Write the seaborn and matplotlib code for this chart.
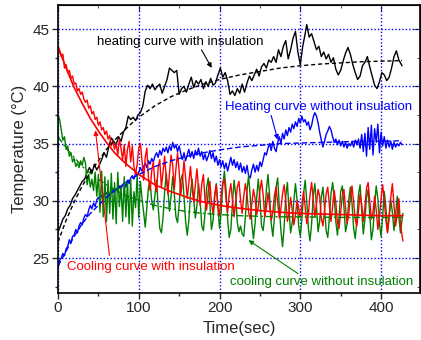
import numpy as np
import pandas as pd
import matplotlib
matplotlib.use("Agg")
import matplotlib.pyplot as plt
from matplotlib.ticker import MultipleLocator
import seaborn as sns

# ---------------- data ----------------
heat_ins = [(0,27.3),(3,27.8),(6,28.4),(9,28.7),(12,29.3),(15,29.6),(18,30.2),(21,30.5),(24,30.9),(27,31.3),(30,31.7),(33,31.9),(36,32.5),(39,32.9),(42,32.4),(45,33.2),(48,32.7),(51,33.1),(54,33.6),(57,34.2),(60,33.8),(63,34.8),(66,35.5),(69,35.2),(72,34.9),(75,35.6),(78,35.2),(81,36.0),(84,36.4),(87,37.4),(90,37.1),(93,37.3),(96,37.0),(99,37.5),(102,37.7),(105,38.3),(108,39.6),(111,40.1),(114,39.8),(117,40.2),(120,39.7),(123,40.0),(126,40.2),(129,39.4),(132,40.0),(135,40.6),(138,41.6),(141,41.4),(144,41.2),(147,41.4),(150,39.3),(153,39.8),(156,40.0),(159,39.5),(162,40.2),(165,40.8),(168,39.9),(171,40.5),(174,40.2),(177,40.6),(180,39.8),(183,40.4),(186,40.0),(189,40.7),(192,40.1),(195,40.3),(198,41.0),(201,41.6),(204,40.8),(207,41.2),(210,40.5),(213,39.3),(216,39.6),(219,39.2),(222,39.8),(225,39.4),(228,40.2),(231,39.5),(234,40.3),(237,40.9),(240,40.5),(243,41.0),(246,41.5),(249,40.9),(252,41.7),(255,42.0),(258,41.6),(261,42.3),(264,42.1),(267,42.6),(270,42.1),(273,43.2),(276,42.6),(279,43.5),(282,44.0),(285,42.4),(288,43.2),(291,44.2),(294,44.8),(297,43.0),(300,41.9),(303,43.5),(306,44.6),(308,45.4),(311,44.3),(314,44.6),(317,43.9),(320,43.2),(323,43.5),(326,42.6),(329,43.0),(332,42.4),(335,42.8),(338,42.1),(341,42.5),(344,41.5),(347,41.0),(350,41.4),(353,42.2),(356,42.9),(359,43.4),(362,42.8),(365,41.9),(368,41.2),(371,40.6),(374,40.9),(377,41.8),(380,42.1),(383,42.6),(386,41.7),(389,40.9),(392,40.1),(395,39.8),(398,40.4),(401,41.2),(404,41.0),(407,40.5),(410,40.8),(413,41.6),(416,42.6),(419,43.1),(422,42.3),(426,41.8)]

heat_ins_fit = [(0,26.4),(10,28.3),(20,29.9),(30,31.3),(40,32.5),(50,33.5),(60,34.5),(70,35.3),(80,36.0),(90,36.7),(100,37.3),(120,38.3),(140,39.1),(160,39.7),(180,40.2),(200,40.6),(225,41.0),(250,41.3),(275,41.6),(300,41.8),(325,41.95),(350,42.05),(375,42.15),(400,42.2),(426,42.25)]

heat_noins = [(0,24.1),(2,24.8),(4,25.0),(6,25.4),(8,25.2),(10,25.8),(12,26.0),(14,26.6),(16,26.3),(18,26.9),(20,27.0),(22,27.5),(24,27.2),(26,27.8),(28,28.1),(30,27.9),(32,28.5),(34,28.8),(36,28.6),(38,29.2),(40,29.6),(42,29.3),(44,29.8),(46,29.5),(48,30.1),(50,30.3),(52,30.0),(54,30.5),(56,30.3),(58,30.8),(60,30.6),(62,30.9),(64,30.5),(66,30.7),(68,31.0),(70,30.7),(72,31.1),(74,30.8),(76,31.3),(78,31.0),(80,31.4),(82,31.6),(84,31.2),(86,31.8),(88,31.5),(90,32.0),(92,32.2),(94,31.9),(96,32.4),(98,32.2),(100,32.5),(102,32.9),(104,32.6),(106,33.0),(108,33.3),(110,32.9),(112,33.5),(114,33.2),(116,33.7),(118,33.4),(120,33.9),(122,34.2),(124,33.8),(126,34.4),(128,34.0),(130,34.6),(132,34.3),(134,34.7),(136,34.2),(138,34.8),(140,34.4),(142,35.1),(144,34.6),(146,34.9),(148,34.3),(150,34.8),(152,34.1),(154,33.6),(156,34.2),(158,33.5),(160,34.0),(162,34.5),(164,33.8),(166,34.3),(168,33.7),(170,34.4),(172,34.0),(174,34.6),(176,33.9),(178,34.3),(180,33.6),(182,34.1),(184,33.5),(186,33.9),(188,34.4),(190,33.7),(192,34.2),(194,33.4),(196,33.9),(198,33.1),(200,33.6),(202,33.0),(204,33.5),(206,32.8),(208,33.3),(210,32.6),(212,33.2),(214,33.8),(216,33.1),(218,33.6),(220,32.9),(222,33.4),(224,32.7),(226,33.3),(228,32.5),(230,33.0),(232,32.4),(234,33.1),(236,32.2),(238,32.0),(240,32.7),(242,33.2),(244,32.5),(246,33.1),(248,32.6),(250,33.4),(252,33.0),(254,33.6),(256,34.2),(258,34.0),(260,34.6),(262,35.0),(264,34.4),(266,35.2),(268,34.6),(270,34.3),(272,35.1),(274,35.6),(276,35.0),(278,35.9),(280,35.4),(282,36.2),(284,35.7),(286,36.4),(288,36.0),(290,36.7),(292,36.3),(294,36.9),(296,36.5),(298,37.2),(300,36.8),(302,37.4),(304,36.9),(306,37.1),(308,36.6),(310,36.9),(312,36.2),(314,36.6),(316,37.3),(318,37.7),(320,37.4),(322,36.8),(324,36.0),(326,35.3),(328,34.7),(330,35.2),(332,35.8),(334,36.1),(336,36.5),(338,36.2),(340,35.6),(342,35.1),(344,35.4),(346,34.9),(348,35.3),(350,34.8),(352,35.2),(354,34.7),(356,35.1),(358,34.6),(360,35.0),(362,34.8),(364,35.2),(366,34.7),(368,35.3),(370,34.9),(372,35.4),(374,34.6),(376,35.8),(378,34.3),(380,35.9),(382,33.9),(384,36.4),(386,34.5),(388,36.6),(390,34.0),(392,36.3),(394,35.1),(396,36.7),(398,34.2),(400,36.0),(402,34.8),(404,35.6),(406,34.6),(408,35.3),(410,34.7),(412,35.2),(414,34.5),(416,35.1),(418,34.7),(420,35.0),(422,34.8),(424,35.1),(426,34.9)]

heat_noins_fit = [(0,24.3),(10,25.6),(20,26.9),(30,28.0),(40,28.9),(50,29.6),(60,30.3),(70,30.9),(80,31.4),(90,31.9),(100,32.3),(120,33.0),(140,33.5),(160,33.9),(180,34.2),(200,34.45),(225,34.7),(250,34.85),(275,35.0),(300,35.05),(325,35.1),(350,35.15),(375,35.2),(400,35.2),(426,35.25)]

cool_ins = [(0,43.5),(2,43.0),(4,42.6),(6,42.8),(8,41.6),(10,41.9),(12,41.2),(14,41.4),(16,40.7),(18,40.9),(20,40.2),(22,40.3),(24,39.6),(26,39.8),(28,39.3),(30,39.5),(32,38.9),(34,38.6),(36,38.8),(38,38.1),(40,38.3),(42,37.6),(44,37.8),(46,37.1),(48,37.3),(50,36.6),(52,36.9),(54,36.2),(56,36.4),(58,35.8),(60,36.1),(62,35.4),(64,35.7),(66,34.8),(68,35.2),(70,34.5),(72,35.0),(74,34.0),(76,35.4),(78,34.6),(80,33.6),(82,34.9),(84,33.0),(86,34.5),(88,35.2),(90,33.4),(92,34.8),(94,33.0),(96,32.3),(98,33.2),(100,34.6),(102,35.0),(104,33.5),(106,31.8),(108,33.8),(110,34.6),(112,32.0),(114,30.9),(116,32.6),(118,33.4),(120,31.5),(122,30.8),(124,32.9),(126,33.6),(128,31.2),(130,32.5),(132,33.9),(134,32.0),(136,30.6),(138,32.4),(140,34.0),(142,33.1),(144,31.0),(146,32.8),(148,34.2),(150,32.6),(152,30.5),(154,31.8),(156,33.5),(158,32.0),(160,30.2),(162,31.6),(164,33.0),(166,31.2),(168,29.9),(170,31.4),(172,32.8),(174,31.0),(176,29.6),(178,31.5),(180,32.3),(182,30.1),(184,29.2),(186,30.8),(188,31.7),(190,29.8),(192,28.9),(194,30.5),(196,31.4),(198,29.5),(200,28.7),(202,30.4),(204,31.6),(206,31.9),(208,30.2),(210,29.0),(212,30.6),(214,31.5),(216,30.0),(218,28.6),(220,29.9),(222,31.2),(224,31.7),(226,30.1),(228,28.9),(230,30.4),(232,31.5),(234,30.6),(236,29.0),(238,28.4),(240,29.8),(242,31.0),(244,30.2),(246,28.8),(248,29.5),(250,30.9),(252,31.8),(254,30.5),(256,28.6),(258,29.4),(260,30.7),(262,29.6),(264,28.3),(266,29.0),(268,30.5),(270,31.2),(272,29.8),(274,28.5),(276,29.3),(278,30.6),(280,31.4),(282,30.0),(284,28.2),(286,28.9),(288,30.3),(290,29.2),(292,27.9),(294,28.8),(296,30.0),(298,29.4),(300,28.5),(302,29.6),(304,30.8),(306,29.5),(308,28.0),(310,28.8),(312,30.5),(314,31.6),(316,30.2),(318,28.6),(320,29.7),(322,31.0),(324,30.4),(326,28.5),(328,27.8),(330,29.2),(332,30.6),(334,31.2),(336,29.6),(338,28.2),(340,29.5),(342,30.9),(344,29.8),(346,28.1),(348,27.6),(350,29.0),(352,30.4),(354,31.0),(356,29.4),(358,28.0),(360,28.9),(362,30.3),(364,31.3),(366,29.9),(368,28.4),(370,27.8),(372,29.1),(374,30.6),(376,29.7),(378,28.2),(380,29.5),(382,31.1),(384,31.6),(386,30.0),(388,28.4),(390,29.0),(392,30.4),(394,29.2),(396,27.5),(398,28.6),(400,30.2),(402,31.4),(404,30.0),(406,28.3),(408,27.2),(410,28.7),(412,30.3),(414,31.5),(416,29.6),(418,27.8),(420,28.9),(422,30.2),(424,28.0),(427,26.5)]

cool_ins_fit = [(0,43.5),(10,41.6),(20,39.9),(30,38.5),(40,37.2),(50,36.1),(60,35.1),(70,34.2),(80,33.5),(90,32.9),(100,32.3),(120,31.4),(140,30.8),(160,30.3),(180,29.9),(200,29.6),(225,29.35),(250,29.15),(275,29.0),(300,28.9),(325,28.85),(350,28.8),(375,28.75),(400,28.7),(427,28.7)]

cool_noins = [(0,37.5),(2,37.1),(4,36.2),(6,35.3),(8,35.6),(10,34.5),(12,34.8),(14,33.9),(16,34.2),(18,33.4),(20,33.7),(22,33.0),(24,33.3),(26,32.9),(28,33.5),(30,33.1),(32,33.8),(34,33.3),(36,31.4),(38,32.3),(40,31.2),(42,31.9),(44,30.9),(46,32.5),(48,30.4),(50,32.3),(52,29.0),(54,32.6),(56,28.6),(58,32.1),(60,28.2),(62,31.8),(64,28.9),(66,32.4),(68,28.4),(70,31.6),(72,28.0),(74,32.5),(76,29.5),(78,31.2),(80,28.2),(82,32.1),(84,28.6),(86,31.7),(88,28.0),(90,31.9),(92,27.8),(94,30.8),(96,29.4),(98,32.2),(100,28.5),(102,31.7),(104,30.2),(106,29.0),(108,27.7),(110,29.5),(112,31.2),(114,31.7),(116,30.0),(118,29.2),(120,30.5),(122,31.8),(124,29.5),(126,27.6),(128,27.2),(130,28.5),(132,30.8),(134,32.4),(136,31.0),(138,29.1),(140,30.4),(142,32.1),(144,30.6),(146,28.6),(148,28.1),(150,29.7),(152,31.8),(154,32.3),(156,30.4),(158,28.2),(160,27.0),(162,28.3),(164,30.6),(166,31.9),(168,30.2),(170,28.5),(172,29.6),(174,31.5),(176,30.0),(178,27.8),(180,27.4),(182,28.9),(184,31.1),(186,32.0),(188,29.8),(190,27.5),(192,28.3),(194,30.4),(196,31.5),(198,29.4),(200,27.6),(202,29.0),(204,31.3),(206,32.6),(208,31.0),(210,28.4),(212,26.8),(214,27.5),(216,29.8),(218,31.8),(220,30.5),(222,28.1),(224,27.3),(226,27.8),(228,27.1),(230,26.9),(232,28.6),(234,30.9),(236,32.2),(238,30.4),(240,28.0),(242,26.7),(244,28.0),(246,30.3),(248,31.9),(250,30.2),(252,27.8),(254,27.4),(256,28.8),(258,31.0),(260,32.3),(262,30.4),(264,28.0),(266,26.9),(268,28.6),(270,31.2),(272,32.0),(274,29.5),(276,27.4),(278,26.0),(280,27.7),(282,30.4),(284,31.6),(286,29.2),(288,27.2),(290,28.1),(292,30.0),(294,31.5),(296,30.1),(298,27.8),(300,26.9),(302,28.4),(304,30.6),(306,31.8),(308,30.0),(310,27.6),(312,26.5),(314,28.0),(316,30.4),(318,31.5),(320,29.6),(322,27.3),(324,28.2),(326,30.3),(328,31.2),(330,29.4),(332,27.4),(334,26.8),(336,28.5),(338,30.6),(340,31.6),(342,30.3),(344,28.2),(346,27.0),(348,28.6),(350,30.8),(352,31.3),(354,29.5),(356,27.3),(358,28.0),(360,30.1),(362,31.2),(364,29.8),(366,27.6),(368,26.7),(370,28.3),(372,30.5),(374,31.4),(376,29.2),(378,27.1),(380,28.4),(382,30.3),(384,31.0),(386,28.8),(388,26.6),(390,27.5),(392,29.6),(394,31.3),(396,30.2),(398,28.0),(400,26.9),(402,28.7),(404,30.8),(406,29.4),(408,27.3),(410,28.5),(412,30.1),(414,29.0),(416,27.4),(418,28.8),(420,30.4),(422,28.6),(424,27.2),(427,28.9)]

cool_noins_fit = [(0,35.6),(10,34.6),(20,33.8),(30,33.0),(40,32.4),(50,31.9),(60,31.4),(70,31.0),(80,30.6),(90,30.3),(100,30.05),(120,29.6),(140,29.3),(160,29.05),(180,28.9),(200,28.8),(225,28.7),(250,28.65),(275,28.6),(300,28.6),(350,28.55),(400,28.55),(427,28.55)]

x_ticks = [0, 100, 200, 300, 400]
y_ticks = [25, 30, 35, 40, 45]
x_label = "Time(sec)"
y_label = "Temperature (°C)"

# ---------------- drawing ----------------
sns.set_style("ticks")
plt.rcParams["font.family"] = ["Liberation Sans", "DejaVu Sans"]

fig = plt.figure(figsize=(4.21, 3.40), dpi=100)
ax = fig.add_axes([0.1378, 0.138, 0.860, 0.847])

def df(pts):
    a = np.array(pts, dtype=float)
    return pd.DataFrame({"t": a[:, 0], "T": a[:, 1]})

lw = 1.0
sns.lineplot(data=df(heat_ins), x="t", y="T", color="black", lw=lw, ax=ax, estimator=None, sort=False)
sns.lineplot(data=df(heat_noins), x="t", y="T", color="blue", lw=lw, ax=ax, estimator=None, sort=False)
sns.lineplot(data=df(cool_noins), x="t", y="T", color="green", lw=lw, ax=ax, estimator=None, sort=False)
sns.lineplot(data=df(cool_ins), x="t", y="T", color="red", lw=lw, ax=ax, estimator=None, sort=False)

sns.lineplot(data=df(heat_ins_fit), x="t", y="T", color="black", lw=1.0, ax=ax, estimator=None, sort=False, dashes=False).lines[-1].set_dashes([3, 2])
sns.lineplot(data=df(heat_noins_fit), x="t", y="T", color="blue", lw=1.0, ax=ax, estimator=None, sort=False).lines[-1].set_dashes([4, 2])
sns.lineplot(data=df(cool_noins_fit), x="t", y="T", color="green", lw=1.0, ax=ax, estimator=None, sort=False).lines[-1].set_dashes([5, 2, 1.5, 2])
sns.lineplot(data=df(cool_ins_fit), x="t", y="T", color="red", lw=1.2, ax=ax, estimator=None, sort=False)

ax.set_xlim(0, 448.3)
ax.set_ylim(21.94, 47.1)
ax.set_xticks(x_ticks)
ax.set_yticks(y_ticks)
ax.xaxis.set_minor_locator(MultipleLocator(50))
ax.yaxis.set_minor_locator(MultipleLocator(2.5))
ax.grid(True, which="major", color="blue", linestyle=(0, (1, 1.5)), linewidth=1.0)
ax.set_axisbelow(True)
ax.tick_params(which="major", direction="out", length=4, width=1, labelsize=11, pad=2)
ax.tick_params(which="minor", direction="out", length=2.5, width=1)
for s in ax.spines.values():
    s.set_linewidth(1.2)
    s.set_color("black")

secx = ax.secondary_xaxis("top")
secx.set_xticks(x_ticks)
secx.xaxis.set_minor_locator(MultipleLocator(50))
secx.tick_params(which="both", direction="in", labeltop=False)
secx.tick_params(which="major", length=4)
secx.tick_params(which="minor", length=2.5)
secy = ax.secondary_yaxis("right")
secy.set_yticks(y_ticks)
secy.yaxis.set_minor_locator(MultipleLocator(2.5))
secy.tick_params(which="both", direction="in", labelright=False)
secy.tick_params(which="major", length=4)
secy.tick_params(which="minor", length=2.5)

ax.set_xlabel(x_label, fontsize=12, labelpad=4)
ax.set_ylabel(y_label, fontsize=12, labelpad=4)

fs = 9.5
ax.text(48, 43.9, "heating curve with insulation", color="black", fontsize=fs, va="center", ha="left")
ax.annotate("", xy=(192, 41.4), xytext=(176, 43.4),
            arrowprops=dict(arrowstyle="-|>", color="black", lw=0.8, mutation_scale=7))
ax.text(207, 38.2, "Heating curve without insulation", color="blue", fontsize=fs, va="center", ha="left")
ax.annotate("", xy=(273, 35.1), xytext=(263, 37.7),
            arrowprops=dict(arrowstyle="-|>", color="blue", lw=0.8, mutation_scale=7))
ax.text(11, 24.2, "Cooling curve with insulation", color="red", fontsize=fs, va="center", ha="left")
ax.annotate("", xy=(46, 36.4), xytext=(64, 25.0),
            arrowprops=dict(arrowstyle="-|>", color="red", lw=0.8, mutation_scale=7))
ax.text(213, 22.9, "cooling curve without insulation", color="green", fontsize=fs, va="center", ha="left")
ax.annotate("", xy=(233, 26.7), xytext=(300, 23.5),
            arrowprops=dict(arrowstyle="-|>", color="green", lw=0.8, mutation_scale=7))

fig.savefig("out.png", dpi=100)
